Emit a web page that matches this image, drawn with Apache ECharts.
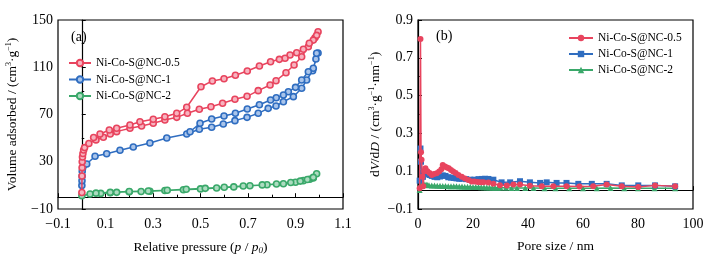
<!DOCTYPE html>
<html>
<head>
<meta charset="utf-8">
<script src="https://cdn.jsdelivr.net/npm/echarts@6/dist/echarts.min.js"></script>
<style>
html,body{margin:0;padding:0;background:#fff;}
#chart{width:716px;height:266px;}
</style>
</head>
<body>
<div id="chart"></div>
<script>
var names = ['Ni-Co-S@NC-0.5', 'Ni-Co-S@NC-1', 'Ni-Co-S@NC-2'];
var colors = ['#e8445e', '#2f6dc0', '#3aa86a'];
var lightColors = ['#f7b3bf', '#a9c4ea', '#acdcc0'];

// (a) isotherms: [p/p0, volume]
var adsA = [[0.0005,4],[0.001,18],[0.0015,25],[0.002,30],[0.003,34],[0.005,37],[0.008,40],[0.012,42],[0.03,45.5],[0.06,48.5],[0.091,50.7],[0.12,53.5],[0.147,55.5],[0.203,58.3],[0.252,60.3],[0.301,62.6],[0.35,65.3],[0.4,67.6],[0.445,71],[0.495,74.4],[0.544,76.6],[0.593,79.5],[0.645,82.9],[0.696,85.4],[0.743,90.2],[0.793,95],[0.818,98.6],[0.86,105.4],[0.894,111.9],[0.926,118.9],[0.954,127.4],[0.982,135],[0.995,140]];
var desA = [[0.989,137],[0.975,133],[0.958,130.3],[0.933,125.2],[0.905,122.3],[0.877,120.4],[0.856,117.6],[0.832,116.7],[0.795,114.7],[0.748,111.1],[0.697,106.8],[0.647,103.2],[0.599,100.3],[0.55,98.4],[0.502,93.5],[0.442,76.1],[0.4,71],[0.35,68.1],[0.301,66],[0.245,63.9],[0.203,61.1],[0.147,58.3],[0.116,56.9],[0.077,53.5],[0.05,50.5]];
var adsB = [[0.0005,10],[0.001,14],[0.0015,18],[0.002,22],[0.004,25],[0.008,27],[0.021,28.1],[0.056,34.6],[0.105,36.8],[0.161,39.7],[0.217,42.5],[0.287,45.9],[0.358,50.1],[0.442,53.5],[0.495,57.5],[0.547,59.2],[0.596,62],[0.645,64.8],[0.696,67.6],[0.743,71],[0.785,75.2],[0.818,77.2],[0.849,80.8],[0.891,85.1],[0.926,92.2],[0.947,99.2],[0.972,107.1],[0.986,117],[0.995,122]];
var desB = [[0.989,121.8],[0.975,109.1],[0.954,106.2],[0.926,99.2],[0.9,93],[0.87,89.3],[0.849,86.5],[0.819,84.2],[0.795,82.3],[0.748,78.3],[0.697,74.7],[0.647,71],[0.599,68.7],[0.547,66.2],[0.498,62.6],[0.456,55.4]];
var adsC = [[0.0005,1.3],[0.035,2.7],[0.08,3.2],[0.12,3.8],[0.147,4.1],[0.2,4.5],[0.25,4.8],[0.287,5],[0.35,5.6],[0.428,6.3],[0.5,7],[0.568,7.8],[0.64,8.7],[0.708,9.7],[0.78,10.5],[0.849,11.4],[0.9,12.6],[0.933,14],[0.96,15.2],[0.975,16.2],[0.989,19.9]];
var desC = [[0.975,16.8],[0.95,15],[0.92,13.6],[0.88,12.4],[0.82,11.2],[0.76,10.4],[0.68,9.5],[0.6,8.4],[0.52,7.5],[0.44,6.7],[0.36,5.9],[0.28,5.3],[0.2,4.8],[0.12,4.1],[0.06,3.4]];

// (b) pore size distribution: [D (nm), dV/dD]
var psdA = [[0.6,0.01],[0.9,0.8],[1.1,0.2],[1.3,0.16],[1.6,0.07],[1.9,0.02],[2.3,0.1],[2.7,0.115],[3.4,0.1],[4.2,0.09],[5,0.08],[5.8,0.085],[6.8,0.089],[7.7,0.098],[8.5,0.11],[9,0.133],[9.8,0.125],[10.5,0.12],[11.2,0.115],[12,0.107],[12.8,0.098],[13.7,0.09],[14.7,0.08],[15.9,0.07],[17.1,0.062],[18.3,0.053],[19.5,0.046],[20.5,0.045],[21.7,0.043],[22.8,0.041],[23.8,0.041],[25.6,0.04],[27.4,0.034],[29.8,0.026],[32.3,0.025],[34.7,0.029],[37.1,0.029],[40.7,0.023],[45,0.02],[49.2,0.02],[54,0.02],[58.7,0.019],[63.7,0.02],[68.6,0.029],[74.1,0.02],[80.1,0.017],[86.2,0.025],[93.5,0.02]];
var psdB = [[0.6,0.05],[0.9,0.22],[1.1,0.15],[1.4,0.09],[1.8,0.07],[2.3,0.085],[2.8,0.09],[3.4,0.085],[4.2,0.08],[5,0.075],[6,0.07],[7,0.068],[8,0.072],[9,0.078],[10,0.075],[11,0.068],[12,0.066],[13,0.064],[14,0.062],[15,0.06],[16,0.06],[17.5,0.058],[19,0.055],[20.5,0.055],[22,0.058],[23.2,0.059],[24.4,0.06],[25.6,0.059],[27.4,0.055],[30.4,0.041],[33.5,0.041],[37.1,0.047],[40.7,0.041],[44.4,0.038],[46.8,0.041],[50.4,0.038],[54,0.038],[58.3,0.033],[63.2,0.033],[68.6,0.033],[74.1,0.025],[80.1,0.025],[86.2,0.025],[93.5,0.02]];
var psdC = [[0.6,0.0],[0.9,0.03],[1.2,0.025],[1.5,0.022],[2,0.028],[2.5,0.03],[3,0.028],[3.5,0.027],[4,0.026],[5,0.025],[6,0.024],[7,0.023],[8,0.023],[9,0.022],[10,0.022],[11,0.021],[12,0.021],[13,0.02],[14,0.02],[15,0.019],[16,0.019],[17,0.018],[18,0.018],[19,0.018],[20,0.017],[21,0.016],[22,0.016],[23,0.015],[24,0.015],[25,0.014],[26,0.014],[27,0.013],[28,0.013],[29,0.012],[30,0.012],[32,0.012],[34,0.011],[36,0.011],[39,0.011],[42,0.011],[46,0.01],[50,0.01],[55,0.01],[60,0.01],[65,0.01],[70,0.011],[75,0.01],[80,0.01],[86,0.01],[93.5,0.01]];

var isoData = [adsA.concat(desA), adsB.concat(desB), adsC.concat(desC)];
var psdData = [psdA, psdB, psdC];
var psdSymbols = ['circle', 'rect', 'triangle'];

var font = 'Liberation Serif';
function fmt(d) {
	return function(v) {
		var s = Number(v).toFixed(d);
		return s.replace('-', '\u2212');
	};
}
var supRich = {
	sup: {fontFamily: font, fontSize: 8, padding: [0, 0, 7, 0], color: '#000'},
	sub: {fontFamily: font, fontSize: 9, padding: [7, 0, 0, 0], color: '#000', fontStyle: 'italic'},
	i: {fontFamily: font, fontSize: 13.5, fontStyle: 'italic', color: '#000'}
};

function valueAxis(idx, min, max, interval, d, name, gap, isY) {
	return {
		type: 'value', gridIndex: idx, min: min, max: max, interval: interval,
		name: name, nameLocation: 'middle', nameGap: gap,
		nameTextStyle: {fontFamily: font, fontSize: 13.5, color: '#000', rich: supRich},
		axisLine: {lineStyle: {color: '#000', width: 1.2}},
		axisTick: {inside: true, length: 4, lineStyle: {color: '#000'}},
		minorTick: {show: true, splitNumber: 2, length: 2.5, lineStyle: {color: '#000'}},
		axisLabel: {fontFamily: font, fontSize: 14, color: '#000', margin: isY ? 5 : 8, formatter: fmt(d)},
		splitLine: {show: false}
	};
}

var myChart = echarts.init(document.getElementById('chart'));

var series = [];
for (var k = 0; k < 3; k++) {
	series.push({
		name: names[k], type: 'line', xAxisIndex: 0, yAxisIndex: 0,
		data: isoData[k], symbol: 'circle', symbolSize: 6,
		itemStyle: {color: lightColors[k], borderColor: colors[k], borderWidth: 1.6},
		lineStyle: {color: colors[k], width: 1.5},
		z: 3 - k
	});
}
for (var k = 0; k < 3; k++) {
	series.push({
		name: names[k] + ' ', type: 'line', xAxisIndex: 1, yAxisIndex: 1,
		data: psdData[k], symbol: psdSymbols[k], symbolSize: 6,
		itemStyle: {color: colors[k]},
		lineStyle: {color: colors[k], width: 1.5},
		z: k === 0 ? 5 : 4 - k
	});
}

var option = {
	animation: false,
	backgroundColor: '#fff',
	grid: [
		{left: 58, top: 20, width: 285, height: 189, show: true, borderColor: '#000', borderWidth: 1.2},
		{left: 418, top: 20, width: 275, height: 189, show: true, borderColor: '#000', borderWidth: 1.2}
	],
	xAxis: [
		valueAxis(0, -0.1, 1.1, 0.2, 1, 'Relative pressure ({i|p} / {i|p}{sub|0})', 30, false),
		valueAxis(1, 0, 100, 20, 0, 'Pore size / nm', 30, false)
	],
	yAxis: [
		valueAxis(0, -10, 150, 40, 0, 'Volume adsorbed / (cm{sup|3}\u00b7g{sup|\u22121})', 38, true),
		valueAxis(1, -0.1, 0.9, 0.2, 1, 'd{i|V}/d{i|D} / (cm{sup|3}\u00b7g{sup|\u22121}\u00b7nm{sup|\u22121})', 35, true)
	],
	legend: [
		{
			orient: 'vertical', left: 63, top: 52, itemWidth: 22, itemHeight: 8, itemGap: 4.5,
			textStyle: {fontFamily: font, fontSize: 11.5, color: '#000'},
			data: names
		},
		{
			orient: 'vertical', left: 563, top: 27, itemWidth: 24, itemHeight: 8, itemGap: 4,
			textStyle: {fontFamily: font, fontSize: 11.5, color: '#000'},
			data: names.map(function(n) { return n + ' '; }),
			formatter: function(n) { return n.trim(); }
		}
	],
	graphic: [
		{type: 'text', left: 71, top: 30, style: {text: '(a)', font: '14px "Liberation Serif"', fill: '#000'}},
		{type: 'text', left: 436, top: 29, style: {text: '(b)', font: '14px "Liberation Serif"', fill: '#000'}}
	],
	series: series
};

myChart.setOption(option);
</script>
</body>
</html>
